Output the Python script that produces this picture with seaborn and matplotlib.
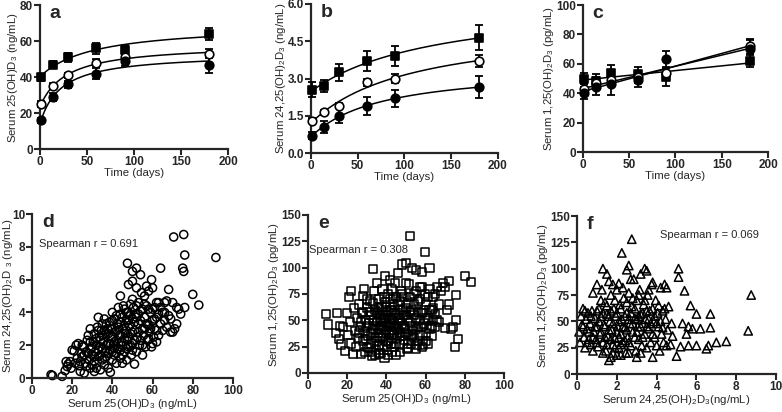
import numpy as np
import pandas as pd
import seaborn as sns
import matplotlib.pyplot as plt

# ---- time course data (panels a-c) ----
days = [1, 14, 30, 60, 90, 180]

a_sq = [40, 47, 51, 56, 55, 64]
a_sq_err = [2, 2, 2.5, 3, 3, 3.5]
a_oc = [25, 35, 41, 48, 51, 53]
a_oc_err = [1.5, 1.5, 1.5, 2, 2, 2.5]
a_fc = [16, 29, 36, 42, 49, 47]
a_fc_err = [1.5, 2, 2, 3, 3, 4.5]

b_sq = [2.55, 2.7, 3.25, 3.7, 3.9, 4.65]
b_sq_err = [0.3, 0.25, 0.35, 0.4, 0.4, 0.5]
b_oc = [1.3, 1.65, 1.9, 2.85, 3.0, 3.7]
b_oc_err = [0.1, 0.1, 0.1, 0.15, 0.2, 0.25]
b_fc = [0.7, 1.05, 1.5, 1.9, 2.2, 2.65]
b_fc_err = [0.15, 0.25, 0.3, 0.35, 0.35, 0.45]

c_sq = [50, 48, 54, 53, 51, 62]
c_sq_err = [4, 5, 5, 5, 6, 4]
c_oc = [43, 47, 49, 51, 54, 72]
c_oc_err = [3, 4, 4, 4, 4, 5]
c_fc = [40, 44, 46, 49, 63, 70]
c_fc_err = [4, 5, 7, 5, 6, 6]

# ---- scatter data (panels d-f) ----
d_pts = [(9.5,0.2),(10.2,0.15),(15,0.1),(16.5,0.45),(17,1.0),(17.5,0.7),(18,0.85),(19,1.0),(19.5,0.6),
         (20,1.7),(21,1.65),(21.5,0.9),(22,2.0),(22.5,1.2),(23,2.1),(23.5,0.75),(24,0.4),(24.5,1.5),
         (25,1.3),(25.5,1.9),(26,0.3),(26.5,0.9),(27,1.6),(27.5,2.3),(28,2.6),(28.5,1.1),(29,3.0),
         (29.5,1.8),(30,0.8),(30,1.4),(30.5,2.2),(31,1.0),(31,2.7),(31.5,1.6),(32,0.6),(32,2.0),
         (32.5,3.1),(33,3.7),(33,1.3),(33.5,2.5),(34,0.5),(34,1.9),(34.5,2.9),(35,1.1),(35,3.3),
         (35.5,2.2),(36,3.6),(36,0.8),(36.5,1.6),(37,2.7),(37,1.3),(37.5,3.0),(38,0.6),(38,2.1),
         (38.5,3.4),(39,0.35),(39,1.7),(39.5,2.5),(40,4.0),(40,1.1),(40,3.0),(40.5,2.0),(41,3.6),
         (41,1.4),(41.5,2.8),(42,0.9),(42,2.3),(42.5,3.3),(43,4.3),(43,1.8),(43.5,2.6),(44,5.0),
         (44,1.2),(44,3.9),(44.5,2.2),(45,3.0),(45,0.9),(45.5,4.4),(46,4.2),(46,1.6),(46.5,2.7),
         (47,3.5),(47,1.1),(47.5,7.0),(47.5,2.3),(48,5.7),(48,4.0),(48,1.9),(48.5,3.2),(49,2.7),
         (49,4.5),(49.5,1.4),(50,6.5),(50,5.9),(50,3.6),(50,2.1),(50.5,4.3),(51,0.85),(51,2.9),
         (51.5,3.9),(52,6.7),(52,5.5),(52,1.6),(52.5,2.5),(53,4.6),(53,3.3),(53.5,2.0),(54,6.3),
         (54,4.1),(54.5,5.2),(55,3.0),(55,1.4),(55.5,2.6),(56,5.0),(56,3.7),(56.5,1.9),(57,5.6),
         (57,4.4),(57.5,2.3),(58,3.2),(58,5.3),(58.5,2.8),(59,4.0),(59.5,6.0),(59.5,1.9),(60,3.5),
         (60,5.5),(60.5,2.5),(61,4.3),(61,3.0),(62,2.2),(62,3.7),(63,4.6),(63,2.6),(64,6.7),(64,3.3),
         (65,2.9),(65,4.0),(66,4.6),(66,3.5),(67,4.7),(67,3.1),(68,5.4),(68,3.8),(69,2.8),(69,3.6),
         (70,2.8),(70,4.6),(70.5,8.6),(71,3.0),(72,3.3),(72,4.3),(73,4.2),(74,3.9),(75,6.7),
         (75.5,8.75),(75.5,6.5),(76,7.5),(76,4.3),(80,5.1),(83,4.45),(91.5,7.35),
         (28,1.5),(29,2.2),(30,1.9),(31,1.3),(32,2.4),(33,1.7),(33,2.9),(34,2.3),(34,1.4),(35,2.6),
         (35,1.8),(36,2.9),(36,1.2),(37,2.0),(37,3.3),(38,1.5),(38,2.7),(39,3.0),(39,2.1),(40,1.6),
         (40,2.5),(40,3.5),(41,2.2),(41,1.8),(42,2.9),(42,3.8),(42,1.5),(43,2.1),(43,3.1),(44,2.6),
         (44,1.7),(44,3.4),(45,2.0),(45,3.7),(45,1.4),(46,3.2),(46,2.4),(47,2.9),(47,1.8),(47,4.0),
         (48,2.5),(48,3.5),(49,2.0),(49,3.8),(50,2.8),(50,1.7),(50,4.8),(51,3.4),(51,2.3),(52,3.7),
         (52,4.4),(53,2.8),(53,3.9),(54,2.3),(54,3.5),(55,4.2),(55,2.0),(56,3.0),(56,4.5),(57,3.3),
         (58,4.2),(58,2.4),(59,3.0),(60,4.2),(60,2.1),(61,3.6),(62,4.6),(62,2.9),(63,3.9),(64,4.3),
         (66,4.0),(25,2.0),(26,1.4),(27,0.7),(24,1.0),(29,0.6),(31,0.4)]

e_pts = [(9,56),(10,46),(14.5,38),(15,57),(16,32),(16.5,45),(17,27),(18,44),(19,21),(20,57),(20.5,36),
         (21,72),(21.5,48),(22,78),(22,28),(23,18),(23.5,62),(24,40),(24.5,25),(25,52),(25.5,33),
         (26,65),(26.5,44),(27,18),(27.5,57),(28,73),(28,30),(28.5,80),(29,40),(29,20),(29.5,50),
         (30,62),(30,25),(30.5,35),(31,47),(31.5,68),(32,28),(32,55),(32.5,16),(33,99),(33,42),
         (33.5,78),(34,33),(34,60),(34.5,22),(35,48),(35,85),(35.5,38),(36,70),(36,27),(36.5,55),
         (37,44),(37,19),(37.5,63),(38,34),(38,80),(38.5,50),(39,14),(39,41),(39.5,92),(39.5,67),
         (40,30),(40,55),(40.5,22),(41,46),(41,75),(41.5,36),(42,88),(42,60),(42.5,28),(43,50),
         (43,40),(43.5,70),(44,25),(44,57),(44.5,85),(45,17),(45,44),(45.5,33),(46,65),(46,95),
         (46.5,52),(47,38),(47,27),(47.5,78),(48,103),(48,47),(48.5,60),(49,31),(49,72),(49.5,42),
         (50,104),(50,55),(50.5,23),(51,66),(51,36),(51.5,84),(52,130),(52,48),(52.5,28),(53,100),
         (53,60),(53.5,40),(54,75),(54,33),(55,98),(55,52),(55.5,27),(56,68),(56,44),(57,82),(57,36),
         (58,96),(58,57),(58.5,27),(59,47),(59.5,115),(59.5,75),(60,38),(60,65),(61,52),(61,28),
         (62,100),(62,80),(63,45),(63,60),(64,72),(64,50),(65,44),(65,56),(66,82),(67,65),(67,48),
         (68,78),(69,85),(70,82),(70,43),(71,60),(72,87),(72,65),(73,42),(74,44),(75,25),(75.3,50),
         (75.5,74),(76.5,32),(80,92),(83,86),
         (30,45),(31,58),(32,38),(33,66),(33,50),(34,45),(35,57),(35,30),(36,42),(36,62),(37,52),
         (37,33),(38,58),(38,45),(38,25),(39,72),(39,52),(40,40),(40,63),(40,48),(41,58),(41,30),
         (42,44),(42,52),(42,70),(43,33),(43,60),(43,80),(44,47),(44,38),(44,65),(45,55),(45,72),
         (45,28),(46,42),(46,48),(47,60),(47,68),(47,50),(48,35),(48,75),(49,55),(49,45),(50,62),
         (50,38),(50,85),(51,50),(51,28),(52,58),(52,72),(53,45),(53,35),(54,55),(54,65),(55,42),
         (55,78),(56,58),(56,30),(57,50),(57,70),(58,44),(58,82),(59,60),(60,50),(60,30),(61,72),
         (62,42),(62,60),(63,35),(64,62),(65,75),(66,50),(26,38),(27,48),(28,58),(29,32),(30,70),
         (31,24),(32,20),(34,17),(36,18),(41,17),(43,20),(47,20),(51,24),(55,23),(58,25)]

f_pts = [(0.1,40),(0.15,30),(0.2,55),(0.25,47),(0.3,62),(0.35,35),(0.4,25),(0.45,52),(0.5,43),(0.55,58),
         (0.6,33),(0.65,48),(0.7,28),(0.75,60),(0.8,22),(0.8,77),(0.85,40),(0.9,53),(0.95,33),(1.0,85),
         (1.0,45),(1.05,26),(1.1,62),(1.15,38),(1.2,55),(1.25,80),(1.3,100),(1.3,30),(1.35,47),
         (1.4,68),(1.45,22),(1.5,95),(1.5,57),(1.55,36),(1.6,88),(1.6,13),(1.65,50),(1.7,16),(1.7,75),
         (1.75,42),(1.8,28),(1.85,62),(1.9,34),(1.95,55),(2.0,18),(2.0,80),(2.05,45),(2.1,86),(2.1,25),
         (2.15,66),(2.2,38),(2.25,115),(2.25,52),(2.3,30),(2.35,72),(2.4,44),(2.45,20),(2.5,99),
         (2.5,58),(2.55,35),(2.6,103),(2.6,77),(2.65,48),(2.7,27),(2.75,128),(2.75,64),(2.8,40),
         (2.85,90),(2.9,53),(2.95,22),(3.0,16),(3.0,70),(3.05,45),(3.1,33),(3.15,80),(3.2,57),
         (3.25,27),(3.3,48),(3.35,66),(3.4,100),(3.4,38),(3.45,52),(3.5,98),(3.5,25),(3.55,75),
         (3.6,43),(3.65,60),(3.7,30),(3.75,85),(3.8,87),(3.8,16),(3.85,50),(3.9,35),(3.95,70),(4.0,27),
         (4.05,58),(4.1,45),(4.15,22),(4.2,82),(4.25,38),(4.3,60),(4.35,30),(4.4,85),(4.45,52),
         (4.5,82),(4.5,27),(4.55,42),(4.6,64),(4.7,28),(4.75,48),(4.8,36),(5.0,17),(5.1,100),(5.1,92),
         (5.2,26),(5.3,48),(5.4,79),(5.5,38),(5.6,27),(5.6,45),(5.7,65),(5.8,43),(6.0,57),(6.0,27),
         (6.2,43),(6.5,24),(6.6,27),(6.7,57),(6.7,44),(7.0,30),(7.5,31),(8.6,41),(8.75,75),
         (0.6,40),(0.7,55),(0.8,35),(0.9,45),(1.0,60),(1.0,30),(1.1,50),(1.2,40),(1.2,70),(1.3,58),
         (1.4,35),(1.4,45),(1.5,65),(1.5,28),(1.6,42),(1.6,55),(1.7,60),(1.7,33),(1.8,48),(1.8,85),
         (1.9,70),(1.9,25),(2.0,40),(2.0,58),(2.1,50),(2.1,35),(2.2,62),(2.2,28),(2.3,45),(2.3,82),
         (2.4,55),(2.4,32),(2.5,68),(2.5,42),(2.6,30),(2.6,52),(2.7,58),(2.7,90),(2.8,48),(2.8,72),
         (2.9,35),(2.9,62),(3.0,52),(3.0,40),(3.1,75),(3.1,55),(3.2,45),(3.2,95),(3.3,35),(3.3,58),
         (3.4,70),(3.5,45),(3.5,60),(3.6,52),(3.6,80),(3.7,48),(3.8,62),(3.8,38),(3.9,55),(4.0,48),
         (4.1,65),(4.2,50),(4.3,44),(4.4,62),(0.3,45),(0.4,60),(0.5,30),(1.8,20),(2.2,18),(2.6,20),
         (3.2,20),(1.3,20)]

sns.set_style('ticks')
plt.rcParams['font.family'] = ['Liberation Sans', 'DejaVu Sans']
plt.rcParams['mathtext.fontset'] = 'custom'
plt.rcParams['mathtext.rm'] = 'Liberation Sans'
plt.rcParams['mathtext.it'] = 'Liberation Sans:italic'
plt.rcParams['mathtext.bf'] = 'Liberation Sans:bold'


def style_axes(ax, xlim, ylim, xticks, yticks, xlabel, ylabel, letter, yfmt=None):
    sns.despine(ax=ax)
    for s in ['left', 'bottom']:
        ax.spines[s].set_linewidth(1.6)
    ax.set_xlim(*xlim)
    ax.set_ylim(*ylim)
    ax.set_xticks(xticks)
    ax.set_yticks(yticks)
    if yfmt:
        ax.set_yticklabels([yfmt.format(v) for v in yticks])
    ax.tick_params(direction='out', length=4, width=1.5, labelsize=8.5, pad=1)
    for lab in ax.get_xticklabels() + ax.get_yticklabels():
        lab.set_fontweight('bold')
    ax.set_xlabel(xlabel, fontsize=8.2, labelpad=0)
    ax.set_ylabel(ylabel, fontsize=8.2, labelpad=0)
    ax.text(0.05, 1.0, letter, transform=ax.transAxes, fontsize=14,
            fontweight='bold', va='top', ha='left')


def hyperbolic_fit(t, y):
    """Fit y = y0 + B*t/(K+t) by grid search over K"""
    t = np.asarray(t, float)
    y = np.asarray(y, float)
    best = None
    for K in np.linspace(2, 2000, 2000):
        X = np.column_stack([np.ones_like(t), t / (K + t)])
        coef = np.linalg.lstsq(X, y, rcond=None)[0]
        err = np.sum((X @ coef - y) ** 2)
        if best is None or err < best[0]:
            best = (err, K, coef)
    _, K, coef = best
    tt = np.linspace(0, 180, 200)
    return tt, coef[0] + coef[1] * tt / (K + tt)


def time_panel(ax, series, linear=False):
    for vals, errs, marker, face in series:
        df = pd.DataFrame({'t': days, 'v': vals})
        if linear:
            p = np.polyfit(days, vals, 1)
            tt = np.linspace(0, 180, 50)
            yy = np.polyval(p, tt)
        else:
            tt, yy = hyperbolic_fit(days, vals)
        sns.lineplot(x=tt, y=yy, ax=ax, color='black', lw=1.1, zorder=2)
        ax.errorbar(days, vals, yerr=errs, fmt='none', ecolor='black',
                    elinewidth=1.3, capsize=3, capthick=1.3, zorder=3, clip_on=False)
        sns.scatterplot(data=df, x='t', y='v', ax=ax, marker=marker, s=38,
                        facecolor=face, edgecolor='black', linewidth=1.2,
                        zorder=4, clip_on=False)


def scatter_panel(ax, pts, marker, size):
    df = pd.DataFrame(pts, columns=['x', 'y'])
    sns.scatterplot(data=df, x='x', y='y', ax=ax, marker=marker, s=size,
                    facecolor='none', edgecolor='black', linewidth=1.1, clip_on=False)


fig = plt.figure(figsize=(7.82, 4.12), dpi=100)
ax_a = fig.add_axes([0.0512, 0.638, 0.2404, 0.3495])
ax_b = fig.add_axes([0.3977, 0.6286, 0.2391, 0.3617])
ax_c = fig.add_axes([0.7455, 0.631, 0.2366, 0.3568])
ax_d = fig.add_axes([0.0409, 0.0825, 0.257, 0.398])
ax_e = fig.add_axes([0.3939, 0.0947, 0.2506, 0.3835])
ax_f = fig.add_axes([0.7379, 0.0922, 0.2545, 0.3835])

time_panel(ax_a, [(a_sq, a_sq_err, 's', 'black'), (a_oc, a_oc_err, 'o', 'white'),
                  (a_fc, a_fc_err, 'o', 'black')])
style_axes(ax_a, (0, 200), (0, 80), range(0, 201, 50), range(0, 81, 20),
           'Time (days)', 'Serum 25(OH)D$_3$ (ng/mL)', 'a')

time_panel(ax_b, [(b_sq, b_sq_err, 's', 'black'), (b_oc, b_oc_err, 'o', 'white'),
                  (b_fc, b_fc_err, 'o', 'black')])
style_axes(ax_b, (0, 200), (0, 6), range(0, 201, 50), [0, 1.5, 3.0, 4.5, 6.0],
           'Time (days)', 'Serum 24,25(OH)$_2$D$_3$ (ng/mL)', 'b', yfmt='{:.1f}')

time_panel(ax_c, [(c_sq, c_sq_err, 's', 'black'), (c_oc, c_oc_err, 'o', 'white'),
                  (c_fc, c_fc_err, 'o', 'black')], linear=True)
style_axes(ax_c, (0, 200), (0, 100), range(0, 201, 50), range(0, 101, 20),
           'Time (days)', 'Serum 1,25(OH)$_2$D$_3$ (pg/mL)', 'c')

scatter_panel(ax_d, d_pts, 'o', 34)
style_axes(ax_d, (0, 100), (0, 10), range(0, 101, 20), range(0, 11, 2),
           'Serum 25(OH)D$_3$ (ng/mL)', 'Serum 24,25(OH)$_2$D $_3$ (ng/mL)', 'd')
ax_d.yaxis.set_label_coords(-0.085, 0.5)
ax_d.text(3.5, 8.2, 'Spearman r = 0.691', fontsize=8, va='center')

scatter_panel(ax_e, e_pts, 's', 34)
style_axes(ax_e, (0, 100), (0, 150), range(0, 101, 20), range(0, 151, 25),
           'Serum 25(OH)D$_3$ (ng/mL)', 'Serum 1,25(OH)$_2$D$_3$ (pg/mL)', 'e')
ax_e.text(0.5, 117, 'Spearman r = 0.308', fontsize=8, va='center')

scatter_panel(ax_f, f_pts, '^', 36)
style_axes(ax_f, (0, 10), (0, 150), range(0, 11, 2), range(0, 151, 25),
           'Serum 24,25(OH)$_2$D$_3$(ng/mL)', 'Serum 1,25(OH)$_2$D$_3$ (pg/mL)', 'f')
ax_f.text(4.15, 132, 'Spearman r = 0.069', fontsize=8, va='center')

fig.savefig('out.png', dpi=100)
